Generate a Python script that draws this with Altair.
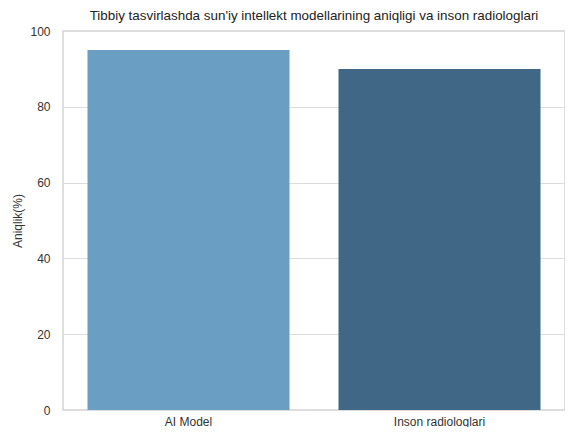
import altair as alt
import pandas as pd

categories = ["AI Model", "Inson radiologlari"]
accuracy = [95, 90]
colors = ["#6a9ec2", "#416786"]

df = pd.DataFrame({"model": categories, "acc": accuracy})

chart = alt.Chart(df).mark_bar(size=202).encode(
    x=alt.X("model:N", sort=categories, title=None,
            axis=alt.Axis(labelAngle=0, labelPadding=6, ticks=False, domain=False,
                          labelFontSize=12, labelColor="#333333", labelFont="Liberation Sans")),
    y=alt.Y("acc:Q", title="Aniqlik(%)", scale=alt.Scale(domain=[0, 100]),
            axis=alt.Axis(values=[0, 20, 40, 60, 80, 100], ticks=False, domain=False,
                          labelPadding=13, labelFontSize=12, labelColor="#333333",
                          labelFont="Liberation Sans", titleFont="Liberation Sans",
                          titleFontSize=12, titleFontWeight="normal", titleColor="#333333",
                          titlePadding=5, gridColor="#dddddd", gridWidth=1.2)),
    color=alt.Color("model:N", scale=alt.Scale(domain=categories, range=colors), legend=None),
).properties(
    width=557, height=419,
    autosize=alt.AutoSizeParams(type="fit", contains="padding"),
    padding={"left": 3, "top": 0, "right": 0, "bottom": 0},
    title=alt.TitleParams("Tibbiy tasvirlashda sun'iy intellekt modellarining aniqligi va inson radiologlari",
                          font="Liberation Sans", fontSize=13.4, fontWeight="normal",
                          color="#222222", offset=3, anchor="middle"),
).configure_view(stroke="#d4d4d4", strokeWidth=1.5)

chart.save("out.html", embed_options={"renderer": "svg", "actions": False})
